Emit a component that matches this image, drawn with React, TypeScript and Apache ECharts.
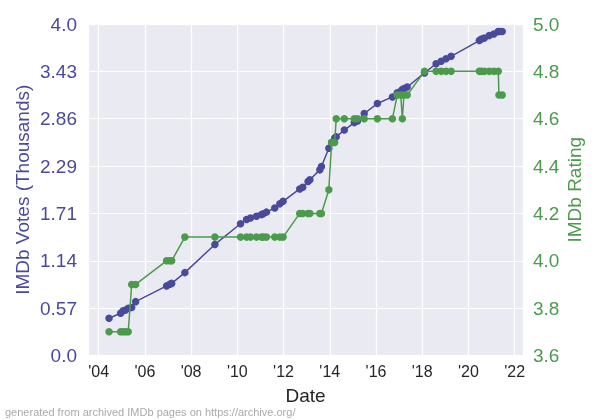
import React, { useEffect, useRef } from "react";
import * as echarts from "echarts";

const dates = [2004.45, 2004.95, 2005.06, 2005.17, 2005.28, 2005.43, 2005.6, 2006.94, 2007.08, 2007.16, 2007.73, 2009.03, 2010.14, 2010.4, 2010.57, 2010.83, 2011.05, 2011.12, 2011.26, 2011.62, 2011.84, 2011.98, 2012.7, 2012.83, 2013.06, 2013.14, 2013.57, 2013.64, 2013.96, 2014.08, 2014.21, 2014.28, 2014.63, 2015.06, 2015.2, 2015.49, 2016.06, 2016.71, 2016.92, 2017.07, 2017.14, 2017.21, 2017.35, 2018.1, 2018.6, 2018.82, 2019.03, 2019.25, 2020.47, 2020.56, 2020.69, 2020.9, 2021.1, 2021.29, 2021.32, 2021.46];
const votes = [0.45, 0.51, 0.54, 0.55, 0.57, 0.58, 0.65, 0.84, 0.86, 0.87, 1.0, 1.34, 1.59, 1.64, 1.66, 1.68, 1.7, 1.71, 1.73, 1.78, 1.83, 1.86, 2.01, 2.03, 2.1, 2.12, 2.24, 2.28, 2.5, 2.57, 2.62, 2.64, 2.72, 2.81, 2.83, 2.92, 3.04, 3.12, 3.17, 3.19, 3.21, 3.22, 3.24, 3.41, 3.52, 3.55, 3.58, 3.61, 3.8, 3.82, 3.83, 3.86, 3.88, 3.91, 3.91, 3.91];
const ratings = [3.7, 3.7, 3.7, 3.7, 3.7, 3.9, 3.9, 4.0, 4.0, 4.0, 4.1, 4.1, 4.1, 4.1, 4.1, 4.1, 4.1, 4.1, 4.1, 4.1, 4.1, 4.1, 4.2, 4.2, 4.2, 4.2, 4.2, 4.2, 4.3, 4.5, 4.5, 4.6, 4.6, 4.6, 4.6, 4.6, 4.6, 4.6, 4.7, 4.7, 4.6, 4.7, 4.7, 4.8, 4.8, 4.8, 4.8, 4.8, 4.8, 4.8, 4.8, 4.8, 4.8, 4.8, 4.7, 4.7];
const voteTickLabels = ["0.0", "0.57", "1.14", "1.71", "2.29", "2.86", "3.43", "4.0"];

const BLUE = "#4a4a9c";
const GREEN = "#4c9a4c";
const FONT = "Liberation Sans, Arial, sans-serif";

export default function App() {
  const ref = useRef<HTMLDivElement>(null);
  useEffect(() => {
    const chart = echarts.init(ref.current!, null, { renderer: "svg" });
    const voteStep = 4 / 7;
    chart.setOption({
      animation: false,
      textStyle: { fontFamily: FONT },
      grid: {
        left: 88, right: 77, top: 24, bottom: 64.5,
        show: true, backgroundColor: "#EAEAF2", borderWidth: 0,
      },
      xAxis: {
        type: "value",
        min: 2003.54, max: 2022.36,
        splitNumber: 9, minInterval: 2, maxInterval: 2,
        name: "Date", nameLocation: "middle", nameGap: 30,
        nameMoveOverlap: false,
        nameTextStyle: { color: "#262626", fontSize: 19, fontFamily: FONT },
        axisLine: { show: false }, axisTick: { show: false },
        axisLabel: {
          color: "#262626", fontSize: 16, fontFamily: FONT, margin: 8,
          showMinLabel: false, showMaxLabel: false,
          formatter: (v: number) => "'" + String(Math.round(v) % 100).padStart(2, "0"),
        },
        splitLine: { show: true, lineStyle: { color: "#ffffff", width: 1.2 } },
      },
      yAxis: [
        {
          type: "value", min: 0, max: 4, interval: voteStep,
          name: "IMDb Votes (Thousands)", nameLocation: "middle", nameGap: 56,
          nameMoveOverlap: false,
          nameTextStyle: { color: BLUE, fontSize: 19, fontFamily: FONT },
          axisLine: { show: false }, axisTick: { show: false },
          axisLabel: {
            color: BLUE, fontSize: 19, fontFamily: FONT, margin: 11,
            formatter: (v: number) => voteTickLabels[Math.round(v / voteStep)] ?? "",
          },
          splitLine: { show: true, lineStyle: { color: "#ffffff", width: 1.2 } },
        },
        {
          type: "value", min: 3.6, max: 5.0, interval: 0.2,
          name: "IMDb Rating", nameLocation: "middle", nameGap: 42,
          nameMoveOverlap: false,
          nameTextStyle: { color: GREEN, fontSize: 19, fontFamily: FONT },
          axisLine: { show: false }, axisTick: { show: false },
          axisLabel: {
            color: GREEN, fontSize: 19, fontFamily: FONT, margin: 10,
            formatter: (v: number) => v.toFixed(1),
          },
          splitLine: { show: false },
        },
      ],
      series: [
        {
          type: "line", yAxisIndex: 0,
          data: dates.map((d, i) => [d, votes[i]]),
          symbol: "circle", symbolSize: 7.5, showSymbol: true,
          lineStyle: { color: BLUE, width: 1.5 },
          itemStyle: { color: BLUE },
          z: 2,
        },
        {
          type: "line", yAxisIndex: 1,
          data: dates.map((d, i) => [d, ratings[i]]),
          symbol: "circle", symbolSize: 7.5, showSymbol: true,
          lineStyle: { color: GREEN, width: 1.5 },
          itemStyle: { color: GREEN },
          z: 3,
        },
      ],
      graphic: [
        {
          type: "text", left: 5, bottom: 3,
          style: {
            text: "generated from archived IMDb pages on https://archive.org/",
            fill: "#aaaaaa", fontSize: 11, fontFamily: FONT,
          },
        },
      ],
    });
    return () => chart.dispose();
  }, []);
  return <div ref={ref} style={{ width: 600, height: 420, position: "fixed", left: 0, top: 0 }} />;
}
